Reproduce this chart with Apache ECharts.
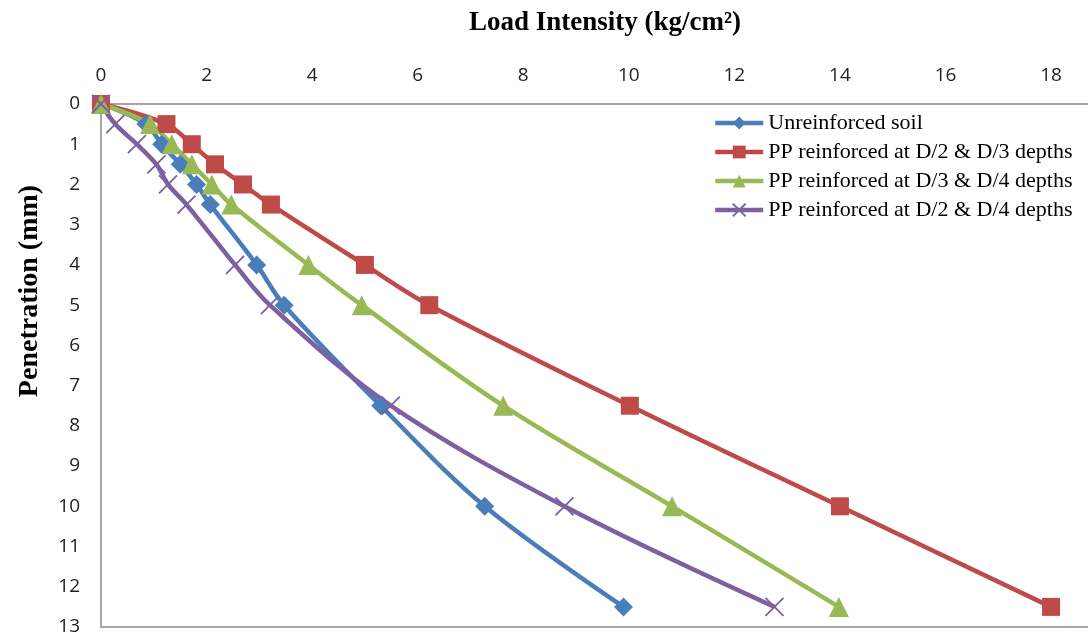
<!DOCTYPE html>
<html>
<head>
<meta charset="utf-8">
<title>Load Intensity vs Penetration</title>
<script src="https://cdn.jsdelivr.net/npm/echarts@6/dist/echarts.min.js"></script>
<style>
  html, body { margin: 0; padding: 0; background: #fff; }
  #chart { width: 1088px; height: 638px; }
</style>
</head>
<body>
<div id="chart"></div>
<script>
// Penetration depths (mm) at which load intensity was recorded
const penetration = [0, 0.5, 1, 1.5, 2, 2.5, 4, 5, 7.5, 10, 12.5];

// Load intensity (kg/cm²) for each test configuration
const unreinforced = [0, 0.85, 1.15, 1.5, 1.81, 2.07, 2.95, 3.47, 5.3, 7.27, 9.9];
const ppD2D3 = [0, 1.24, 1.72, 2.16, 2.69, 3.22, 5.0, 6.22, 10.02, 14.0, 18.0];
const ppD3D4 = [0, 0.93, 1.34, 1.72, 2.1, 2.47, 3.93, 4.94, 7.62, 10.82, 13.98];
const ppD2D4 = [0, 0.27, 0.68, 1.05, 1.27, 1.62, 2.54, 3.2, 5.49, 8.78, 12.76];

const seriesNames = [
  'Unreinforced soil',
  'PP reinforced at D/2 & D/3 depths',
  'PP reinforced at D/3 & D/4 depths',
  'PP reinforced at D/2 & D/4 depths'
];

const pair = (loads) => loads.map((v, i) => [v, penetration[i]]);

const axisGray = '#A6A6A6';
const tickFont = '"Liberation Sans Narrow", "Open Sans", sans-serif';
const serif = '"Liberation Serif", "Times New Roman", serif';

const chart = echarts.init(document.getElementById('chart'), null, { renderer: 'canvas' });

const crossPath = 'path://M0,0 L10,10 M10,0 L0,10';

function lineSeries(name, loads, color, symbol, size, extraItem) {
  return {
    name: name,
    type: 'line',
    data: pair(loads),
    smooth: 0.35,
    symbol: symbol,
    symbolSize: size,
    showAllSymbol: true,
    lineStyle: { color: color, width: 4.5 },
    itemStyle: Object.assign({ color: color }, extraItem || {}),
    emphasis: { disabled: true },
    z: 2
  };
}

chart.setOption({
  animation: false,
  backgroundColor: '#ffffff',
  title: {
    text: 'Load Intensity (kg/cm²)',
    left: 600,
    top: 5,
    textAlign: 'center',
    textStyle: { fontFamily: serif, fontWeight: 'bold', fontSize: 27, color: '#000' }
  },
  graphic: [{
    type: 'text',
    x: 30,
    y: 291,
    rotation: Math.PI / 2,
    style: {
      text: 'Penetration (mm)',
      font: 'bold 28px ' + serif,
      fill: '#000',
      align: 'center',
      verticalAlign: 'middle'
    }
  }],
  legend: {
    orient: 'vertical',
    left: 708,
    top: 107,
    itemWidth: 48,
    itemHeight: 16,
    itemGap: 7,
    lineStyle: { width: 4.5 },
    textStyle: { fontFamily: serif, fontSize: 22, color: '#000' },
    data: seriesNames
  },
  grid: { left: 101, top: 104, right: 0, bottom: 11, containLabel: false },
  xAxis: [{
    type: 'value',
    position: 'top',
    min: 0,
    max: 18.7,
    interval: 2,
    axisLine: { show: true, lineStyle: { color: axisGray, width: 2 } },
    axisTick: { show: false },
    splitLine: { show: false },
    axisLabel: {
      showMaxLabel: false,
      margin: 19,
      fontFamily: tickFont,
      fontSize: 19,
      color: '#222'
    }
  }, {
    type: 'value',
    position: 'bottom',
    min: 0,
    max: 18.7,
    axisLine: { show: true, lineStyle: { color: axisGray, width: 2 } },
    axisTick: { show: false },
    axisLabel: { show: false },
    splitLine: { show: false }
  }],
  yAxis: {
    type: 'value',
    inverse: true,
    min: 0,
    max: 13,
    interval: 1,
    axisLine: { show: true, lineStyle: { color: axisGray, width: 2 } },
    axisTick: { show: false },
    splitLine: { show: false },
    axisLabel: {
      margin: 21,
      fontFamily: tickFont,
      fontSize: 19,
      color: '#222'
    }
  },
  series: [
    lineSeries(seriesNames[0], unreinforced, '#4A7EBB', 'diamond', 19),
    lineSeries(seriesNames[1], ppD2D3, '#BE4B48', 'rect', 18),
    lineSeries(seriesNames[2], ppD3D4, '#98B954', 'triangle', 20),
    lineSeries(seriesNames[3], ppD2D4, '#7D60A0', crossPath, 18,
      { borderColor: '#7D60A0', borderWidth: 1.8 })
  ]
});
</script>
</body>
</html>
